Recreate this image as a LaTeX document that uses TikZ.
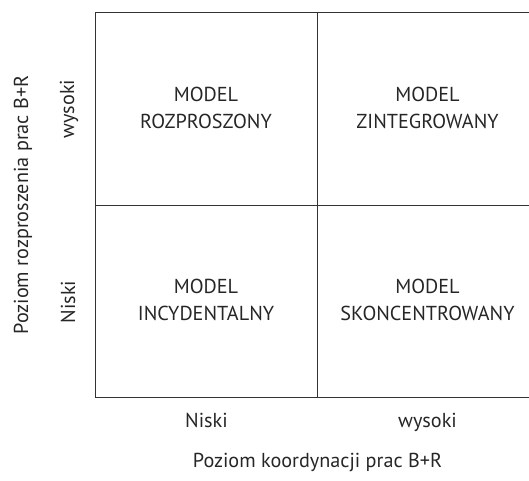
\documentclass[tikz,border=0pt]{standalone}
\usepackage{fontspec}
\setmainfont{PT Sans}
\begin{document}
\begin{tikzpicture}[x=1pt,y=1pt,
  gridline/.style={line width=1pt, draw=black!80},
  lbl/.style={font=\fontsize{20.2}{27.5}\selectfont, text=black!85, inner sep=0pt},
  celltext/.style={lbl, align=center}]
\useasboundingbox (0,0) rectangle (529,480);
% grid
\coordinate (tl) at (95.5,467);
\coordinate (br) at (538,83);
\coordinate (mt) at (317,467);
\coordinate (mb) at (317,83);
\coordinate (ml) at (95.5,275);
\coordinate (mr) at (538,275);
\draw[gridline] (tl) rectangle (br);
\draw[gridline] (mt) -- (mb);
\draw[gridline] (ml) -- (mr);
% cells
\node[celltext] (c1) at (206,372) {MODEL\\ROZPROSZONY};
\node[celltext] (c2) at (427.5,372) {MODEL\\ZINTEGROWANY};
\node[celltext] (c3) at (206,180) {MODEL\\INCYDENTALNY};
\node[celltext] (c4) at (427.5,180) {MODEL\\SKONCENTROWANY};
% axis labels
\node[lbl, anchor=base] (xlow) at (206.5,53) {Niski};
\node[lbl, anchor=base] (xhigh) at (427.5,53) {wysoki};
\node[lbl, anchor=base] (xtitle) at (317.5,13) {Poziom koordynacji prac B+R};
\node[lbl, anchor=base, rotate=90] (yhigh) at (74,371) {wysoki};
\node[lbl, anchor=base, rotate=90] (ylow) at (75,178) {Niski};
\node[lbl, anchor=base, rotate=90] (ytitle) at (28,275) {Poziom rozproszenia prac B+R};
\end{tikzpicture}
\end{document}
